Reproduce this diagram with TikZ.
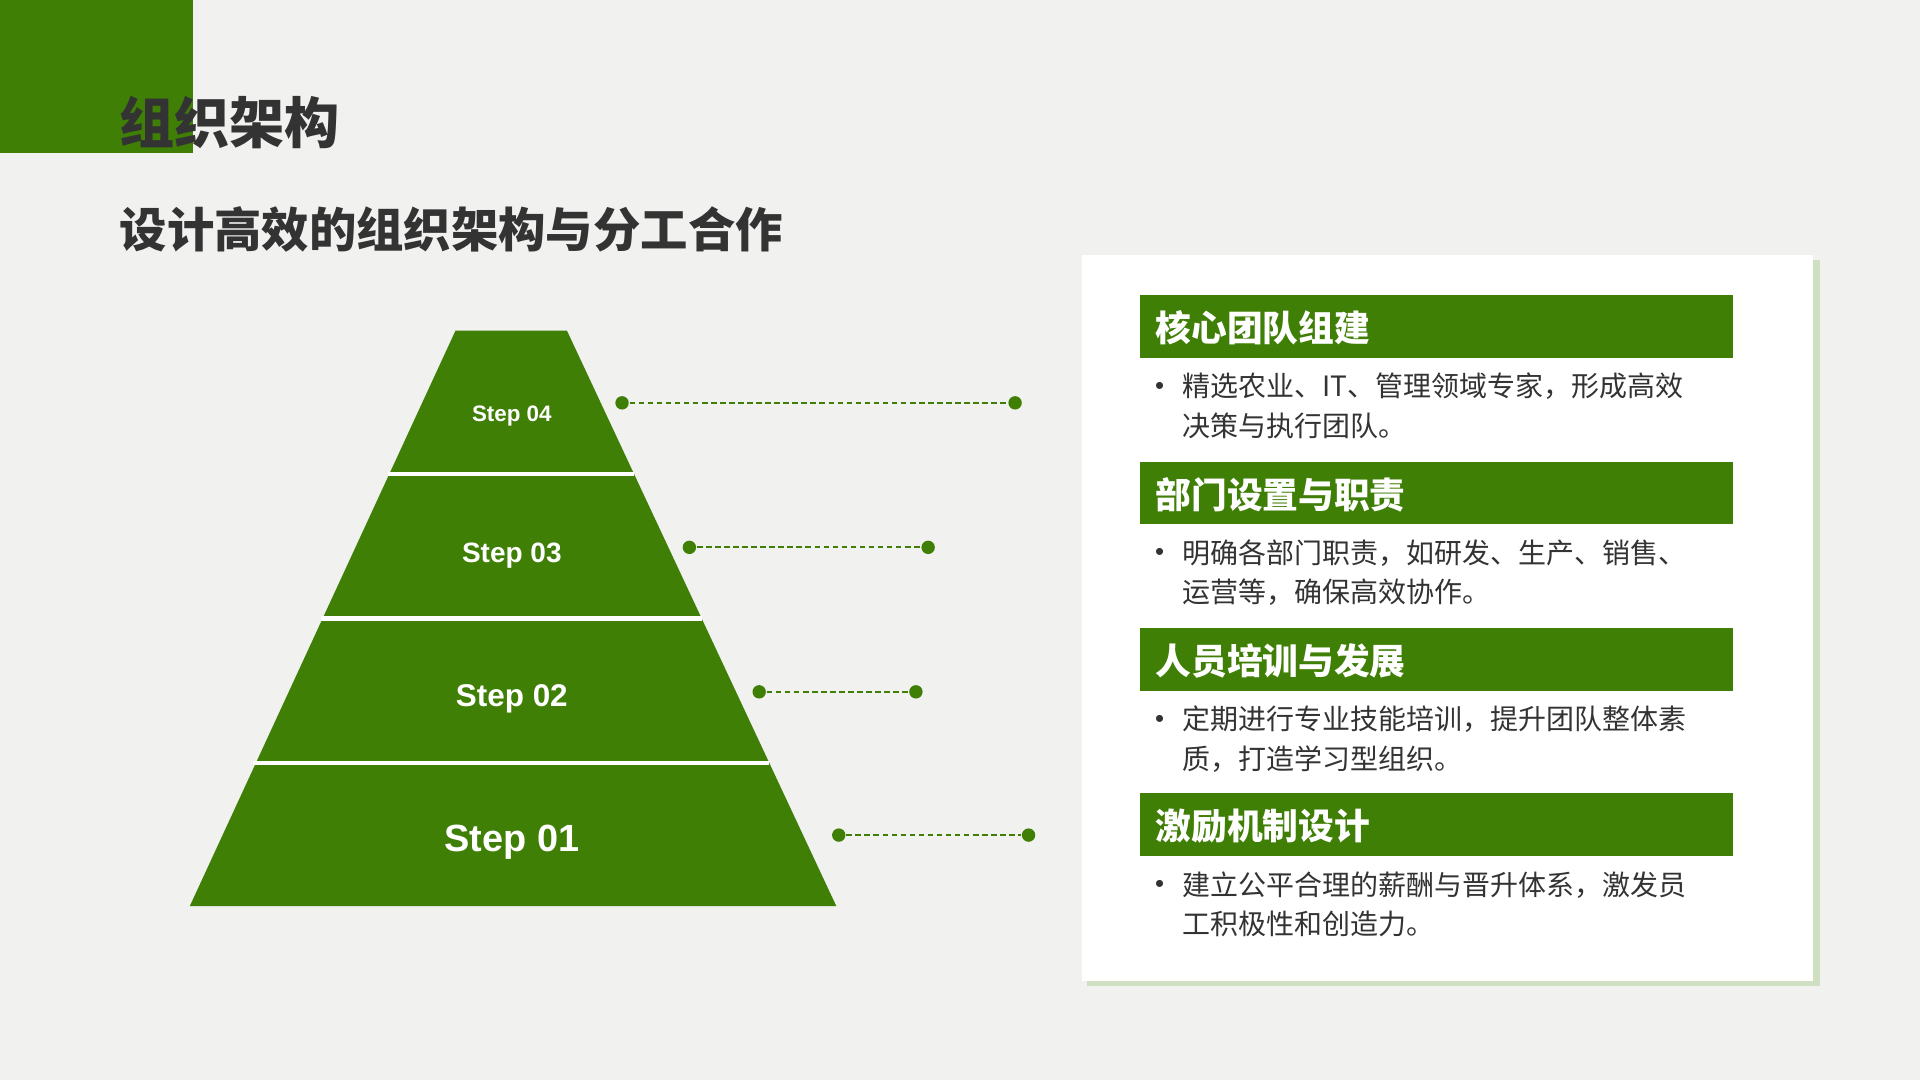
\documentclass[tikz,border=0pt]{standalone}
\usepackage{fontspec}
\setmainfont{Liberation Sans}
\newfontfamily\cjk{Noto Sans CJK SC}
\usetikzlibrary{positioning}
\definecolor{leaf}{HTML}{3F7F06}
\definecolor{paper}{HTML}{F1F1EF}
\definecolor{ink}{HTML}{333333}
\tikzset{
  head/.style={anchor=west, text=white, font=\cjk\fontsize{8.3pt}{9pt}\selectfont\bfseries, inner sep=0pt},
  body/.style={anchor=north west, text=ink, align=left, font=\cjk\fontsize{6.5pt}{9.2pt}\selectfont, inner sep=0pt},
  steplabel/.style={text=white, font=\bfseries},
  leader/.style={leaf, dash pattern=on 1.3pt off 0.8pt, line width=0.5pt},
  tip/.style={circle, fill=leaf, inner sep=1.1pt}
}
\begin{document}
\begin{tikzpicture}[x=0.01cm, y=-0.01cm]
  \fill[paper] (0,0) rectangle (1568,882);
  \useasboundingbox (0,0) rectangle (1568,882);
  \fill[leaf] (0,0) rectangle (158,125);   %corner block
  \node[anchor=west, text=ink, font=\cjk\fontsize{12.8pt}{14pt}\selectfont\bfseries, inner sep=0pt] (title) at (97,100) {组织架构};
  \node[anchor=west, text=ink, font=\cjk\fontsize{11pt}{12pt}\selectfont\bfseries, inner sep=0pt] (subtitle) at (97,187) {设计高效的组织架构与分工合作};
  % pyramid
  \fill[leaf] (372,270) -- (463,270) -- (683,740) -- (155,740) -- cycle;
  \foreach \y/\l/\r in {387/317/518, 505/262/573, 623/207/628}
    \draw[white, line width=1pt] (\l,\y) -- (\r,\y);
  \node[steplabel, font=\fontsize{5.2pt}{6pt}\selectfont\bfseries] (s4) at (418,340) {Step 04};
  \node[steplabel, font=\fontsize{6.5pt}{8pt}\selectfont\bfseries] (s3) at (418,454) {Step 03};
  \node[steplabel, font=\fontsize{7.3pt}{9pt}\selectfont\bfseries] (s2) at (418,571) {Step 02};
  \node[steplabel, font=\fontsize{8.8pt}{10pt}\selectfont\bfseries] (s1) at (418,688) {Step 01};
  % leader lines
  \foreach \n/\a/\b/\y in {4/508/829/329, 3/563/758/447, 2/620/748/565, 1/685/840/682}{
    \node[tip] (l\n a) at (\a,\y) {};
    \node[tip] (l\n b) at (\b,\y) {};
    \draw[leader] (l\n a) -- (l\n b);
  }
  % card
  \fill[leaf!25] (888,212) rectangle (1486,805);
  \fill[white] (884,208) rectangle (1481,801);
  \foreach \y in {241,377,513,648}
    \fill[leaf] (931,\y) rectangle (1415,\y+51);
  \node[head] (h1) at (943,268) {核心团队组建};
  \node[head] (h2) at (943,404) {部门设置与职责};
  \node[head] (h3) at (943,540) {人员培训与发展};
  \node[head] (h4) at (943,675) {激励机制设计};
  \foreach \n/\y/\t in {1/304/{精选农业、IT、管理领域专家，形成高效\\决策与执行团队。},
                       2/440/{明确各部门职责，如研发、生产、销售、\\运营等，确保高效协作。},
                       3/576/{定期进行专业技能培训，提升团队整体素\\质，打造学习型组织。},
                       4/711/{建立公平合理的薪酬与晋升体系，激发员\\工积极性和创造力。}}{
    \node[body] (b\n) at (965,\y) {\t};
    \node[text=ink, font=\fontsize{6pt}{7pt}\selectfont, inner sep=0pt] (d\n) at (947,\y+13) {•};
  }
\end{tikzpicture}
\end{document}
